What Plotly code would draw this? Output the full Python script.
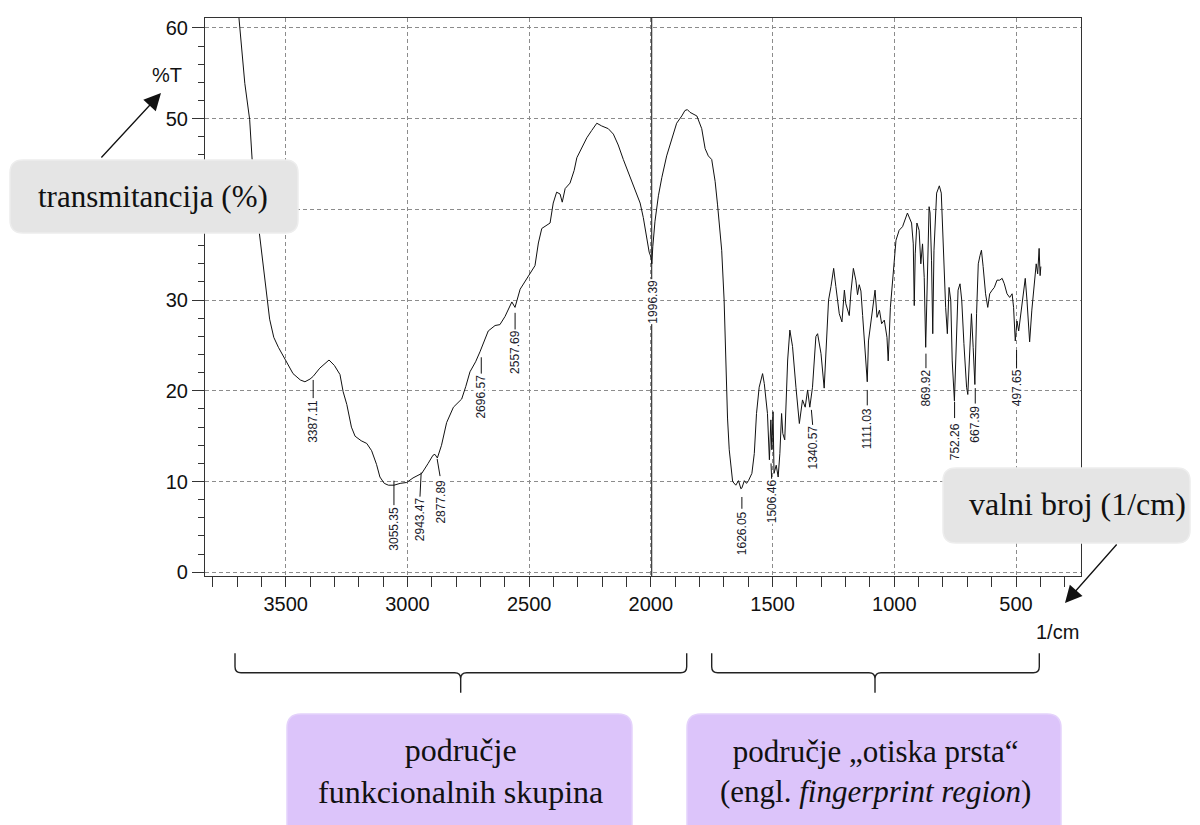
import plotly.graph_objects as go

# ---------------- data ----------------
wavenumber = [3695, 3668, 3648, 3637, 3614, 3600, 3579, 3566, 3549, 3530, 3503, 3470, 3440, 3421,
              3400, 3387, 3360, 3322, 3300, 3277, 3264, 3249, 3230, 3215, 3190, 3167, 3147, 3127,
              3113, 3095, 3078, 3055, 3030, 3003, 2977, 2941, 2915, 2895, 2887, 2877, 2860, 2839,
              2811, 2777, 2760, 2743, 2720, 2702, 2668, 2640, 2620, 2599, 2571, 2558, 2537, 2510,
              2490, 2476, 2462, 2448, 2414, 2401, 2387, 2373, 2364, 2352, 2332, 2315, 2304, 2277,
              2263, 2243, 2222, 2202, 2175, 2154, 2134, 2113, 2092, 2065, 2044, 2031, 2017, 2007,
              1999, 1996, 1992, 1983, 1969, 1955, 1935, 1914, 1894, 1873, 1860, 1850, 1839, 1811,
              1791, 1777, 1764, 1750, 1736, 1726, 1719, 1709, 1699, 1692, 1685, 1678, 1671, 1664,
              1651, 1640, 1630, 1626, 1616, 1607, 1599, 1585, 1575, 1566, 1555, 1541, 1534, 1521,
              1513, 1507, 1503, 1498, 1494, 1485, 1477, 1470, 1463, 1458, 1450, 1438, 1429, 1418,
              1404, 1390, 1377, 1366, 1356, 1347, 1336, 1322, 1315, 1301, 1288, 1281, 1270, 1260,
              1249, 1240, 1226, 1215, 1205, 1199, 1185, 1178, 1168, 1158, 1151, 1144, 1137, 1130,
              1123, 1116, 1111, 1106, 1100, 1095, 1084, 1079, 1071, 1061, 1052, 1041, 1030, 1025,
              1016, 1007, 993, 980, 966, 946, 929, 922, 918, 914, 907, 898, 891, 884, 877, 871,
              864, 857, 853, 847, 842, 837, 826, 815, 807, 798, 789, 782, 775, 768, 762, 753,
              745, 738, 730, 723, 714, 703, 698, 689, 683, 676, 669, 662, 655, 648, 642, 635,
              625, 616, 608, 598, 589, 578, 567, 557, 548, 537, 526, 516, 510, 503, 496, 489,
              480, 469, 462, 455, 444, 435, 428, 417, 411, 405, 401, 398]
transmittance = [62.0, 53.9, 49.9, 45.1, 38.7, 35.5, 30.7, 27.9, 25.9, 24.8, 23.5, 21.9, 21.2, 21.0,
                 21.3, 21.6, 22.5, 23.4, 22.8, 21.8, 19.9, 18.5, 16.0, 15.0, 14.5, 14.2, 13.4, 11.9,
                 10.5, 9.8, 9.6, 9.6, 9.8, 9.9, 10.4, 10.9, 12.0, 12.9, 13.0, 12.6, 14.0, 16.5,
                 18.2, 19.1, 20.5, 22.1, 23.2, 24.3, 26.6, 27.2, 27.3, 28.2, 29.8, 29.2, 31.2, 32.3,
                 33.2, 33.8, 36.3, 37.9, 38.5, 40.7, 41.9, 41.7, 40.8, 42.3, 42.9, 44.3, 45.7, 47.1,
                 47.9, 48.7, 49.5, 49.2, 48.9, 48.3, 47.1, 45.5, 44.1, 42.3, 40.7, 39.1, 36.7, 35.3,
                 34.7, 34.0, 35.9, 38.7, 41.5, 43.5, 45.9, 47.7, 49.5, 50.3, 50.9, 51.0, 50.7, 50.3,
                 48.9, 46.7, 45.9, 45.5, 43.1, 40.5, 38.5, 35.5, 30.0, 22.5, 17.0, 13.5, 12.0, 10.0,
                 9.6, 10.1, 9.2, 9.3, 10.1, 9.8, 10.1, 10.9, 13.1, 17.5, 20.4, 21.9, 20.8, 17.5,
                 12.4, 16.8, 13.5, 17.7, 10.9, 11.8, 10.5, 13.1, 17.5, 15.3, 14.6, 23.4, 26.7, 24.9,
                 20.4, 16.4, 19.0, 18.2, 20.1, 18.2, 20.4, 26.0, 26.3, 24.1, 20.3, 23.8, 30.0, 31.5,
                 33.5, 31.5, 28.5, 27.6, 31.1, 29.6, 28.3, 30.9, 33.5, 32.2, 30.6, 31.7, 31.0, 28.3,
                 25.4, 23.5, 21.0, 25.5, 26.8, 28.1, 30.0, 31.1, 28.1, 28.9, 27.4, 27.8, 25.9, 23.3,
                 29.2, 32.5, 36.6, 37.7, 38.1, 39.6, 38.5, 36.2, 29.4, 35.1, 38.5, 37.7, 34.0, 36.2, 32.5, 24.8,
                 34.4, 40.3, 39.6, 34.4, 26.3, 35.5, 41.8, 42.6, 41.8, 35.1, 29.2, 26.3, 31.4, 30.0, 23.3, 18.9,
                 27.0, 31.1, 31.8, 30.0, 25.2, 20.4, 19.6, 24.8, 28.5, 24.8, 20.7, 28.5, 34.0, 34.9, 35.5, 33.7,
                 30.7, 29.2, 30.7, 31.1, 31.4, 32.2, 32.2, 32.4, 31.8, 30.7, 30.3, 30.7, 29.2, 25.5, 27.7, 26.6,
                 28.5, 31.4, 32.4, 30.0, 25.4, 28.9, 30.7, 34.0, 32.9, 35.7, 32.7, 33.7]

peak_wavenumbers = [3387.11, 3055.35, 2943.47, 2877.89, 2696.57, 2557.69, 1996.39, 1626.05,
                    1506.46, 1340.57, 1111.03, 869.92, 752.26, 667.39, 497.65]

x_tick_values = [3500, 3000, 2500, 2000, 1500, 1000, 500]
y_tick_values = [0, 10, 20, 30, 40, 50, 60]
y_tick_labels = ["0", "10", "20", "30", "", "50", "60"]

# ---------------- label layout (positions only) ----------------
label_center_y = [16.6, 4.8, 5.85, 7.8, 19.4, 24.3, 29.8, 4.3, 7.8, 13.75, 15.8, 20.35, 14.4, 16.3, 20.35]
label_shift_x = [0, 0, -5, 12, 0, 0, 4, 0, 3, 6, 0, 0, 0, 0, 0]
leader_top = [21.2, 10.1, 11.0, 12.5, 23.7, 28.6, None, 8.3, 12.0, 17.9, 20.1, 24.1, 18.8, 20.3, 24.5]
leader_bottom = [19.2, 7.4, 8.3, 10.6, 21.9, 26.7, None, 7.0, 10.1, 16.0, 18.4, 22.5, 17.0, 18.6, 22.5]

# page body has an 8px margin: reference pixel coords are shifted by it
OFF = 8
W, H = 1200 - OFF, 825 - OFF
L, R, T, B = 205, 1081, 18, 576   # plot area in reference pixel coords


def px(x):
    return (x - L) / (R - L)


def py(y):
    return (B - y) / (B - T)


def rrect(x0, y0, x1, y1, r):
    pts = [("M", x0 + r, y0), ("L", x1 - r, y0), ("Q", x1, y0, x1, y0 + r), ("L", x1, y1 - r),
           ("Q", x1, y1, x1 - r, y1), ("L", x0 + r, y1), ("Q", x0, y1, x0, y1 - r),
           ("L", x0, y0 + r), ("Q", x0, y0, x0 + r, y0)]
    s = ""
    for p in pts:
        cmd = p[0]
        coords = p[1:]
        parts = []
        for i in range(0, len(coords), 2):
            parts.append(f"{px(coords[i]):.5f},{py(coords[i + 1]):.5f}")
        s += cmd + " ".join(parts) + " "
    return s + "Z"


def brace(x0, x1, xc, ytop, ymid, ytip, r=6):
    def P(a, b):
        return f"{px(a):.5f},{py(b):.5f}"
    return (f"M{P(x0, ytop)} L{P(x0, ymid - r)} Q{P(x0, ymid)} {P(x0 + r, ymid)} "
            f"L{P(xc - r, ymid)} Q{P(xc, ymid)} {P(xc, ymid + r)} L{P(xc, ytip)} "
            f"M{P(xc, ymid + r)} Q{P(xc, ymid)} {P(xc + r, ymid)} L{P(x1 - r, ymid)} "
            f"Q{P(x1, ymid)} {P(x1, ymid - r)} L{P(x1, ytop)}")


fig = go.Figure()
fig.add_trace(go.Scatter(x=wavenumber, y=transmittance, mode="lines",
                         line=dict(color="#111111", width=1), hoverinfo="skip", showlegend=False))

shapes = []
# vertical line through 1996.39
shapes.append(dict(type="line", xref="x", yref="paper", x0=peak_wavenumbers[6], x1=peak_wavenumbers[6],
                   y0=0, y1=1, line=dict(color="#111111", width=1), layer="above"))
for wn, dx, yt, yb in zip(peak_wavenumbers, label_shift_x, leader_top, leader_bottom):
    if yt is None:
        continue
    shapes.append(dict(type="line", xref="x", yref="y", x0=wn, x1=wn - dx, y0=yt, y1=yb,
                       line=dict(color="#111111", width=1), layer="above"))

# boxes
shapes.append(dict(type="path", xref="paper", yref="paper", path=rrect(10, 160, 298, 233, 13),
                   fillcolor="#e5e5e5", line=dict(color="#ededed", width=1.5), layer="above"))
shapes.append(dict(type="path", xref="paper", yref="paper", path=rrect(943, 468, 1190, 543, 13),
                   fillcolor="#e5e5e5", line=dict(color="#ededed", width=1.5), layer="above"))
shapes.append(dict(type="path", xref="paper", yref="paper", path=rrect(287, 714, 632, 845, 14),
                   fillcolor="#dcc4fa", line=dict(color="#e4d2fb", width=1.5), layer="above"))
shapes.append(dict(type="path", xref="paper", yref="paper", path=rrect(687, 714, 1061, 845, 14),
                   fillcolor="#dcc4fa", line=dict(color="#e4d2fb", width=1.5), layer="above"))
# braces
shapes.append(dict(type="path", xref="paper", yref="paper",
                   path=brace(235, 686.7, 460.7, 653.3, 672.7, 692.7),
                   line=dict(color="#222222", width=1.4), layer="above"))
shapes.append(dict(type="path", xref="paper", yref="paper",
                   path=brace(711.7, 1039.3, 875, 653.3, 672.7, 692.7),
                   line=dict(color="#222222", width=1.4), layer="above"))

annotations = []
label_font = dict(family="Liberation Sans Narrow, Arial Narrow, Liberation Sans", size=12, color="#1a1a2a")
for wn, dx, ly in zip(peak_wavenumbers, label_shift_x, label_center_y):
    annotations.append(dict(x=wn - dx, y=ly, xref="x", yref="y", text=f"{wn:.2f}", textangle=-90,
                            showarrow=False, xanchor="center", yanchor="middle", font=label_font,
                            bgcolor="white", borderpad=0))

sans = "Liberation Sans, Arial, sans-serif"
serif = "Liberation Serif, Times New Roman, serif"
annotations += [
    dict(x=px(167), y=py(75), xref="paper", yref="paper", text="%T", showarrow=False,
         font=dict(family=sans, size=20, color="#111"), xanchor="center", yanchor="middle"),
    dict(x=px(1057), y=py(632), xref="paper", yref="paper", text="1/cm", showarrow=False,
         font=dict(family=sans, size=20, color="#111"), xanchor="center", yanchor="middle"),
    dict(x=px(153), y=py(197), xref="paper", yref="paper", text="transmitancija (%)", showarrow=False,
         font=dict(family=serif, size=31, color="#111"), xanchor="center", yanchor="middle"),
    dict(x=px(1077), y=py(504), xref="paper", yref="paper", text="valni broj (1/cm)", showarrow=False,
         font=dict(family=serif, size=32, color="#111"), xanchor="center", yanchor="middle"),
    dict(x=px(460), y=py(771), xref="paper", yref="paper", text="područje<br>funkcionalnih skupina",
         showarrow=False, font=dict(family=serif, size=32, color="#111"), xanchor="center", yanchor="middle"),
    dict(x=px(875), y=py(771), xref="paper", yref="paper",
         text="područje „otiska prsta“<br>(engl. <i>fingerprint region</i>)",
         showarrow=False, font=dict(family=serif, size=31, color="#111"), xanchor="center", yanchor="middle"),
    dict(x=px(161), y=py(93), xref="paper", yref="paper", text="", showarrow=True, ax=-61, ay=66,
         arrowhead=2, arrowsize=2.6, arrowwidth=1.3, arrowcolor="#111"),
    dict(x=px(1065), y=py(603), xref="paper", yref="paper", text="", showarrow=True, ax=53, ay=-60,
         arrowhead=2, arrowsize=2.6, arrowwidth=1.3, arrowcolor="#111"),
]

grid = dict(gridcolor="#8c8c8c", gridwidth=1, griddash="4px,3px")
fig.update_layout(
    width=W, height=H,
    margin=dict(l=L - OFF, r=1200 - R, t=T - OFF, b=825 - B),
    paper_bgcolor="white", plot_bgcolor="white",
    showlegend=False, hovermode=False,
    shapes=shapes, annotations=annotations,
    xaxis=dict(range=[3831.5, 233], tickvals=x_tick_values, ticks="outside", ticklen=10,
               tickcolor="#333", showline=True, mirror=True, linecolor="#333", linewidth=1.2,
               tickfont=dict(family=sans, size=20, color="#111"), zeroline=False,
               minor=dict(dtick=100, ticks="outside", ticklen=10, tickcolor="#333", showgrid=False),
               **grid),
    yaxis=dict(range=[-0.41, 61.1], tickvals=y_tick_values, ticktext=y_tick_labels, ticks="outside",
               ticklen=12, tickcolor="#333", showline=True, mirror=True, linecolor="#333", linewidth=1.2,
               tickfont=dict(family=sans, size=20, color="#111"), zeroline=False,
               minor=dict(dtick=2, ticks="outside", ticklen=6, tickcolor="#333", showgrid=False),
               **grid),
)

fig.write_html("out.html")
